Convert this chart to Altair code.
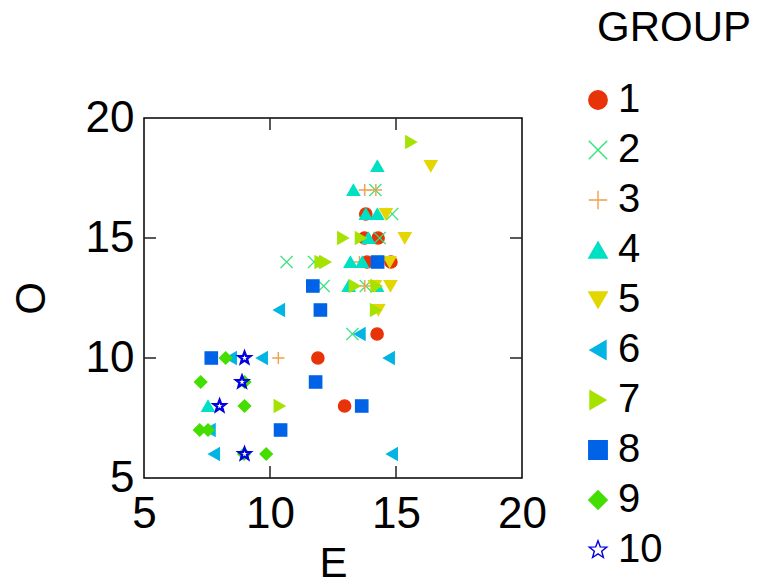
import altair as alt
import pandas as pd

# Group labels and the look of each group
groups = ["1", "2", "3", "4", "5", "6", "7", "8", "9", "10"]
colors = ["#e83208", "#2ee47c", "#f0a048", "#00e0c2", "#e4d600",
          "#02b4e4", "#a6e200", "#0062e6", "#44de00", "#0000e0"]
fills = ["#e83208", "#2ee47c", "#f0a048", "#00e0c2", "#e4d600",
         "#02b4e4", "#a6e200", "#0062e6", "#44de00", "#ffffff"]
STAR = ("M0,-1L0.247,-0.34L0.951,-0.309L0.399,0.13L0.588,0.809L0,0.42"
        "L-0.588,0.809L-0.399,0.13L-0.951,-0.309L-0.247,-0.34Z")
shapes = ["circle", "M-1,-1L1,1M-1,1L1,-1", "M-1,0L1,0M0,-1L0,1",
          "triangle-up", "triangle-down", "triangle-left", "triangle-right",
          "square", "diamond", STAR]

# Observations, ordered by group
group_id = (["1"] * 8 + ["2"] * 8 + ["3"] * 5 + ["4"] * 10 + ["5"] * 7
            + ["6"] * 8 + ["7"] * 9 + ["8"] * 7 + ["9"] * 8 + ["10"] * 4)
e_score = [
    13.8, 13.75, 14.29, 13.85, 14.8, 14.25, 11.9, 12.96,          # 1
    14.18, 14.85, 14.35, 10.66, 11.75, 12.13, 13.8, 13.27,        # 2
    13.76, 14.2, 13.55, 13.76, 10.33,                             # 3
    14.26, 13.31, 13.8, 14.26, 13.9, 13.19, 13.66, 13.12, 14.25, 7.54,  # 4
    16.38, 14.6, 15.35, 14.75, 14.16, 14.78, 14.3,                # 5
    10.36, 13.56, 8.45, 9.68, 14.72, 7.61, 7.78, 14.84,           # 6
    15.6, 12.9, 13.6, 12.0, 12.2, 13.36, 14.22, 14.2, 10.38,      # 7
    14.27, 11.7, 12.0, 7.67, 11.81, 13.64, 10.42,                 # 8
    8.24, 7.25, 8.99, 8.99, 7.21, 7.54, 8.97, 9.85,               # 9
    8.99, 8.89, 8.0, 8.99,                                        # 10
]
o_score = [
    16, 15, 15, 14, 14, 11, 10, 8,
    17, 16, 15, 14, 14, 13, 13, 11,
    17, 17, 14, 13, 10,
    18, 17, 16, 16, 15, 14, 14, 13, 13, 8,
    18, 16, 15, 14, 13, 13, 12,
    12, 11, 10, 10, 10, 7, 6, 6,
    19, 15, 15, 14, 14, 13, 13, 12, 8,
    14, 13, 12, 10, 9, 8, 7,
    10, 9, 9, 8, 7, 7, 6, 6,
    10, 9, 8, 6,
]

axis_ticks = [5, 10, 15, 20]
inner_ticks = [10, 15]

df = pd.DataFrame({"GROUP": group_id, "E": e_score, "O": o_score})
ticks_df = pd.DataFrame({"t": inner_ticks})

W, H = 378, 360
TL = 12
FONT = "Liberation Sans"

x_scale = alt.Scale(domain=[5, 20], nice=False)
y_scale = alt.Scale(domain=[5, 20], nice=False)

legend = alt.Legend(
    orient="none", legendX=453, legendY=-110, title="GROUP",
    titleFontSize=42, labelFontSize=40, titleFont=FONT, labelFont=FONT,
    titleFontWeight="normal", titleColor="black", labelColor="black",
    symbolSize=340, symbolStrokeWidth=1.4, rowPadding=10, titlePadding=30,
    symbolOffset=-19, labelOffset=0, padding=0,
)


def axis(label_pad, title_pad):
    return alt.Axis(values=axis_ticks, grid=False, ticks=False, domain=False,
                    labelFlush=False, labelFontSize=44, labelPadding=label_pad,
                    titleFontSize=42, titlePadding=title_pad, labelFont=FONT,
                    titleFont=FONT, titleFontWeight="normal",
                    labelColor="black", titleColor="black")


def point_layer(stroke_width):
    return alt.Chart(df).mark_point(opacity=1, size=150, strokeWidth=stroke_width).encode(
        x=alt.X("E:Q", scale=x_scale, title="E", axis=axis(14, 7)),
        y=alt.Y("O:Q", scale=y_scale, title="O", axis=axis(10, 32)),
        shape=alt.Shape("GROUP:N", sort=groups,
                        scale=alt.Scale(domain=groups, range=shapes), legend=legend),
        stroke=alt.Stroke("GROUP:N", sort=groups,
                          scale=alt.Scale(domain=groups, range=colors), legend=legend),
        fill=alt.Fill("GROUP:N", sort=groups,
                      scale=alt.Scale(domain=groups, range=fills), legend=legend),
    )


# Groups 1-9 with thin outlines, stars drawn last with a heavier outline
points = point_layer(1.4).transform_filter(alt.datum.GROUP != "10")
stars = point_layer(2.4).transform_filter(alt.datum.GROUP == "10")

tick_style = dict(color="#222222", strokeWidth=1.5)
x_ticks_bottom = alt.Chart(ticks_df).mark_rule(**tick_style).encode(
    x=alt.X("t:Q", scale=x_scale), y=alt.value(H - TL), y2=alt.value(H))
x_ticks_top = alt.Chart(ticks_df).mark_rule(**tick_style).encode(
    x=alt.X("t:Q", scale=x_scale), y=alt.value(0), y2=alt.value(TL))
y_ticks_left = alt.Chart(ticks_df).mark_rule(**tick_style).encode(
    y=alt.Y("t:Q", scale=y_scale), x=alt.value(0), x2=alt.value(TL))
y_ticks_right = alt.Chart(ticks_df).mark_rule(**tick_style).encode(
    y=alt.Y("t:Q", scale=y_scale), x=alt.value(W - TL), x2=alt.value(W))

chart = alt.layer(
    x_ticks_bottom, x_ticks_top, y_ticks_left, y_ticks_right, points, stars
).properties(
    width=W, height=H,
    autosize=alt.AutoSizeParams(type="none"),
    padding={"left": 144, "top": 118, "right": 243, "bottom": 110},
).configure_view(
    stroke="black", strokeWidth=1.5
)

chart.save("out.html", embed_options={"renderer": "svg", "actions": False})
